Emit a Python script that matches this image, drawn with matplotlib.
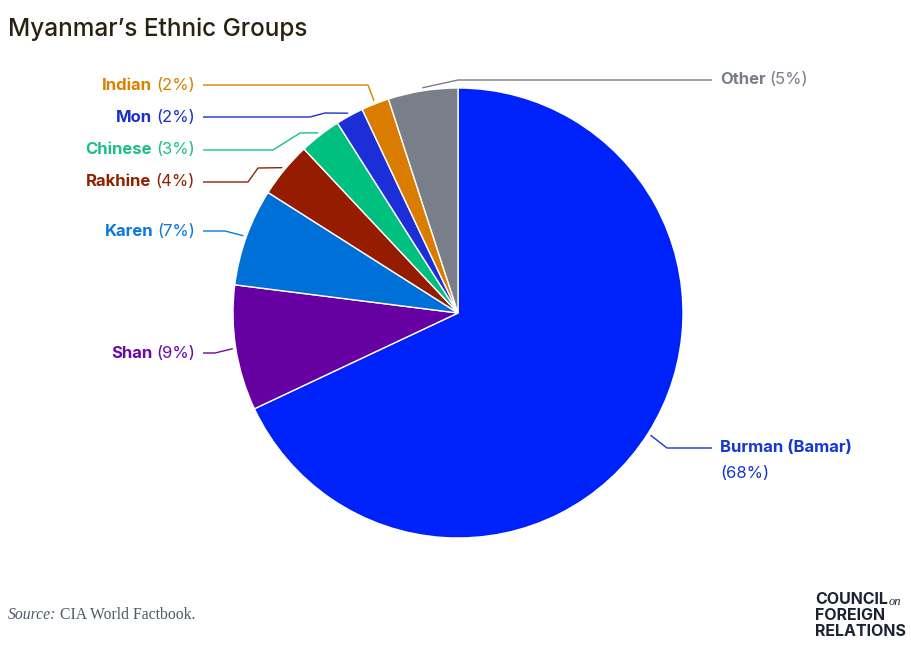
import numpy as np
import matplotlib
matplotlib.use("Agg")
import matplotlib.pyplot as plt

groups = ["Burman (Bamar)", "Shan", "Karen", "Rakhine", "Chinese", "Mon", "Indian", "Other"]
shares = [68, 9, 7, 4, 3, 2, 2, 5]
wedge_colors = ["#0022fa", "#6600a3", "#0070d9", "#961c00", "#00c080", "#1b2ed8", "#d97c00", "#787f89"]
text_colors = ["#1438d0", "#6a08a8", "#0a78e0", "#8f2300", "#1cbf8a", "#1a30cc", "#d98200", "#777e88"]

W, H = 912, 650
CX, CY, R = 458, 313, 225
FONT = "Inter"
FS = 12


def Y(y):
    return H - y


fig = plt.figure(figsize=(W / 100, H / 100), dpi=100)
ax = fig.add_axes([0, 0, 1, 1])

wedges, _ = ax.pie(shares, colors=wedge_colors, startangle=90, counterclock=False,
                   center=(CX, Y(CY)), radius=R, frame=True,
                   wedgeprops=dict(edgecolor="white", linewidth=1))
ax.set_xlim(0, W); ax.set_ylim(0, H); ax.set_aspect("auto"); ax.axis("off")

# label layout: (side, text x, text y, elbow points in pixel coords)
layout = {
    "Burman (Bamar)": ("R", 720, 448, [(667, 448)]),
    "Shan": ("L", 195, 353, [(215, 353)]),
    "Karen": ("L", 195, 231, [(225, 231)]),
    "Rakhine": ("L", 195, 182, [(258, 168), (248, 182)]),
    "Chinese": ("L", 195, 150, [(300, 133), (273, 150)]),
    "Mon": ("L", 195, 117, [(325, 113), (310, 117)]),
    "Indian": ("L", 195, 85, [(368, 85)]),
    "Other": ("R", 720, 80, [(458, 80)]),
}

fig.canvas.draw()
rend = fig.canvas.get_renderer()

for w, g, tc in zip(wedges, groups, text_colors):
    side, tx, ty, elbows = layout[g]
    mid = np.deg2rad((w.theta1 + w.theta2) / 2)
    anchor = (CX + (R + 3) * np.cos(mid), CY - (R + 3) * np.sin(mid))
    end = (tx - 8, ty) if side == "R" else (tx + 8, ty)
    pts = [anchor] + elbows + [end]
    ax.plot([p[0] for p in pts], [Y(p[1]) for p in pts], color=tc, lw=1, solid_capstyle="butt")

    pct = f"({shares[groups.index(g)]}%)"
    if g == "Burman (Bamar)":
        ax.text(tx, Y(ty), g, color=tc, fontsize=FS, fontweight="bold", family=FONT, ha="left", va="center")
        ax.text(tx, Y(ty + 25), pct, color=tc, fontsize=FS, family=FONT, ha="left", va="center")
    elif side == "L":
        t = ax.text(tx, Y(ty), pct, color=tc, fontsize=FS, family=FONT, ha="right", va="center")
        x0 = t.get_window_extent(rend).x0
        ax.text(x0 - 4, Y(ty), g, color=tc, fontsize=FS, fontweight="bold", family=FONT, ha="right", va="center")
    else:
        t = ax.text(tx, Y(ty), g, color=tc, fontsize=FS, fontweight="bold", family=FONT, ha="left", va="center")
        x1 = t.get_window_extent(rend).x1
        ax.text(x1 + 4, Y(ty), pct, color=tc, fontsize=FS, family=FONT, ha="left", va="center")

# title
ax.text(8, Y(29), "Myanmar\u2019s Ethnic Groups", fontsize=17.5, fontweight="medium", family=FONT,
        color="#2a2110", ha="left", va="center")

# source
s = ax.text(8, Y(615), "Source:", fontsize=11.3, family="Liberation Serif", style="italic", color="#4f5a68",
            ha="left", va="center")
ax.text(s.get_window_extent(rend).x1 + 4, Y(615), "CIA World Factbook.", fontsize=11.3,
        family="Liberation Serif", color="#4f5a68", ha="left", va="center")

# logo
c = ax.text(815, Y(600), "COUNCIL", fontsize=11.5, fontweight="bold", family=FONT, color="#1b2333",
            ha="left", va="center")
ax.text(c.get_window_extent(rend).x1 + 1, Y(602), "on", fontsize=9, style="italic", family="Liberation Serif",
        color="#1b2333", ha="left", va="center")
ax.text(815, Y(616), "FOREIGN", fontsize=11.5, fontweight="bold", family=FONT, color="#1b2333", ha="left", va="center")
ax.text(815, Y(632), "RELATIONS", fontsize=11.5, fontweight="bold", family=FONT, color="#1b2333", ha="left", va="center")

fig.savefig("out.png", dpi=100)
